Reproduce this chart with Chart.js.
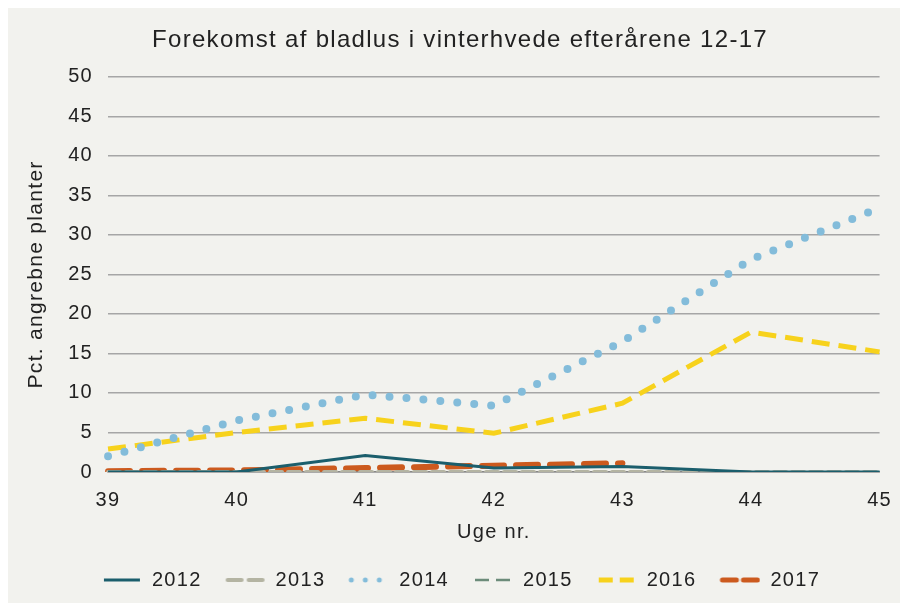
<!DOCTYPE html>
<html><head><meta charset="utf-8">
<script src="https://cdn.jsdelivr.net/npm/chart.js@4"></script>
<style>html,body{margin:0;padding:0;background:#fff;}#wrap{width:900px;height:603px;}</style>
</head><body><div id="wrap"><canvas id="c" width="900" height="603"></canvas></div>
<script>
const weeks = ['39','40','41','42','43','44','45'];
const y2012 = [0, 0, 2.1, 0.5, 0.7, 0, 0];
const y2013 = [0, 0, 0, 0, 0, 0, 0];
const y2014 = [2, 6.5, 9.8, 8.4, 16.5, 26.9, 33.4];
const y2015 = [0, 0, 0, 0, 0, 0, 0];
const y2016 = [2.9, 5, 6.8, 4.9, 8.7, 17.7, 15.2];
const y2017 = [0.1, 0.2, 0.5, 0.8, 1.1, null, null];
const seriesNames = ['2012','2013','2014','2015','2016','2017'];

const styles = [
  {color:'#1b5e6c', width:3, dash:[], cap:'butt'},
  {color:'#b4b4a2', width:4, dash:[12,6], cap:'round'},
  {color:'#83bcda', width:8, dash:[0,17], cap:'round'},
  {color:'#6c8c7a', width:2.5, dash:[10,8], cap:'butt'},
  {color:'#f7d21c', width:5, dash:[18,9], cap:'butt'},
  {color:'#cc5a1e', width:6, dash:[22,12], cap:'round'}
];
const values = [y2012,y2013,y2014,y2015,y2016,y2017];

function marker(s){
  const c=document.createElement('canvas'); c.width=42; c.height=10;
  const x=c.getContext('2d'); x.strokeStyle=s.color; x.lineWidth=Math.min(s.width,5);
  x.lineCap=s.cap;
  if(s.dash.length){ if(s.dash[0]===0){x.setLineDash([0,14]);} else x.setLineDash([14,7]); }
  x.beginPath(); x.moveTo(4,5); x.lineTo(40,5); x.stroke(); return c;
}

const spacing = {id:'spacing',
  beforeUpdate(ch){ ch.ctx.letterSpacing='1.3px'; },
  beforeDraw(ch){ ch.ctx.letterSpacing='1.3px'; },
  afterLayout(ch){
    if(ch.legend){ ch.legend.left += 10; ch.legend.right += 10; }
    if(ch.titleBlock){ ch.titleBlock.left += 10; ch.titleBlock.right += 10; }
  }};
const bg = {id:'bg', beforeDraw(ch){const ctx=ch.ctx; ctx.save(); ctx.fillStyle='#f2f2ee'; ctx.fillRect(8,8,892,595); ctx.restore();}};

const FF = 'Liberation Sans, Arial';
new Chart(document.getElementById('c'), {
  type:'line',
  data:{labels:weeks, datasets: values.map((v,i)=>({
    label:seriesNames[i], data:v, borderColor:styles[i].color, backgroundColor:styles[i].color,
    borderWidth:styles[i].width, borderDash:styles[i].dash, borderCapStyle:styles[i].cap,
    pointRadius:0, tension:0, fill:false, spanGaps:false,
    pointStyle: marker(styles[i])
  }))},
  options:{
    responsive:false, animation:false,
    layout:{padding:{left:20,right:20,top:8,bottom:3}},
    plugins:{
      title:{display:true,text:'Forekomst af bladlus i vinterhvede efterårene 12-17',color:'#222',
        font:{family:FF,size:24,weight:'normal'},padding:{top:18,bottom:22}},
      legend:{position:'bottom',labels:{usePointStyle:true,pointStyleWidth:42,color:'#222',boxWidth:42,boxHeight:10,padding:22,
        font:{family:FF,size:20}}},
      tooltip:{enabled:false}
    },
    scales:{
      x:{offset:false,grid:{display:false,drawOnChartArea:false,drawTicks:true,tickLength:8,color:'#888'},
        border:{display:true,color:'#888',width:1.5},
        ticks:{color:'#222',font:{family:FF,size:20},padding:8,maxRotation:0},
        title:{display:true,text:'Uge nr.',color:'#222',font:{family:FF,size:20},padding:{top:0}}},
      y:{min:0,max:50,
        grid:{color:'#a6a6a6',lineWidth:1.5,drawTicks:false},border:{display:false},
        ticks:{stepSize:5,color:'#222',font:{family:FF,size:20},padding:15},
        title:{display:true,text:'Pct. angrebne planter',color:'#222',font:{family:FF,size:21},padding:{bottom:4}}}
    }
  },
  plugins:[spacing,bg]
});
</script></body></html>
